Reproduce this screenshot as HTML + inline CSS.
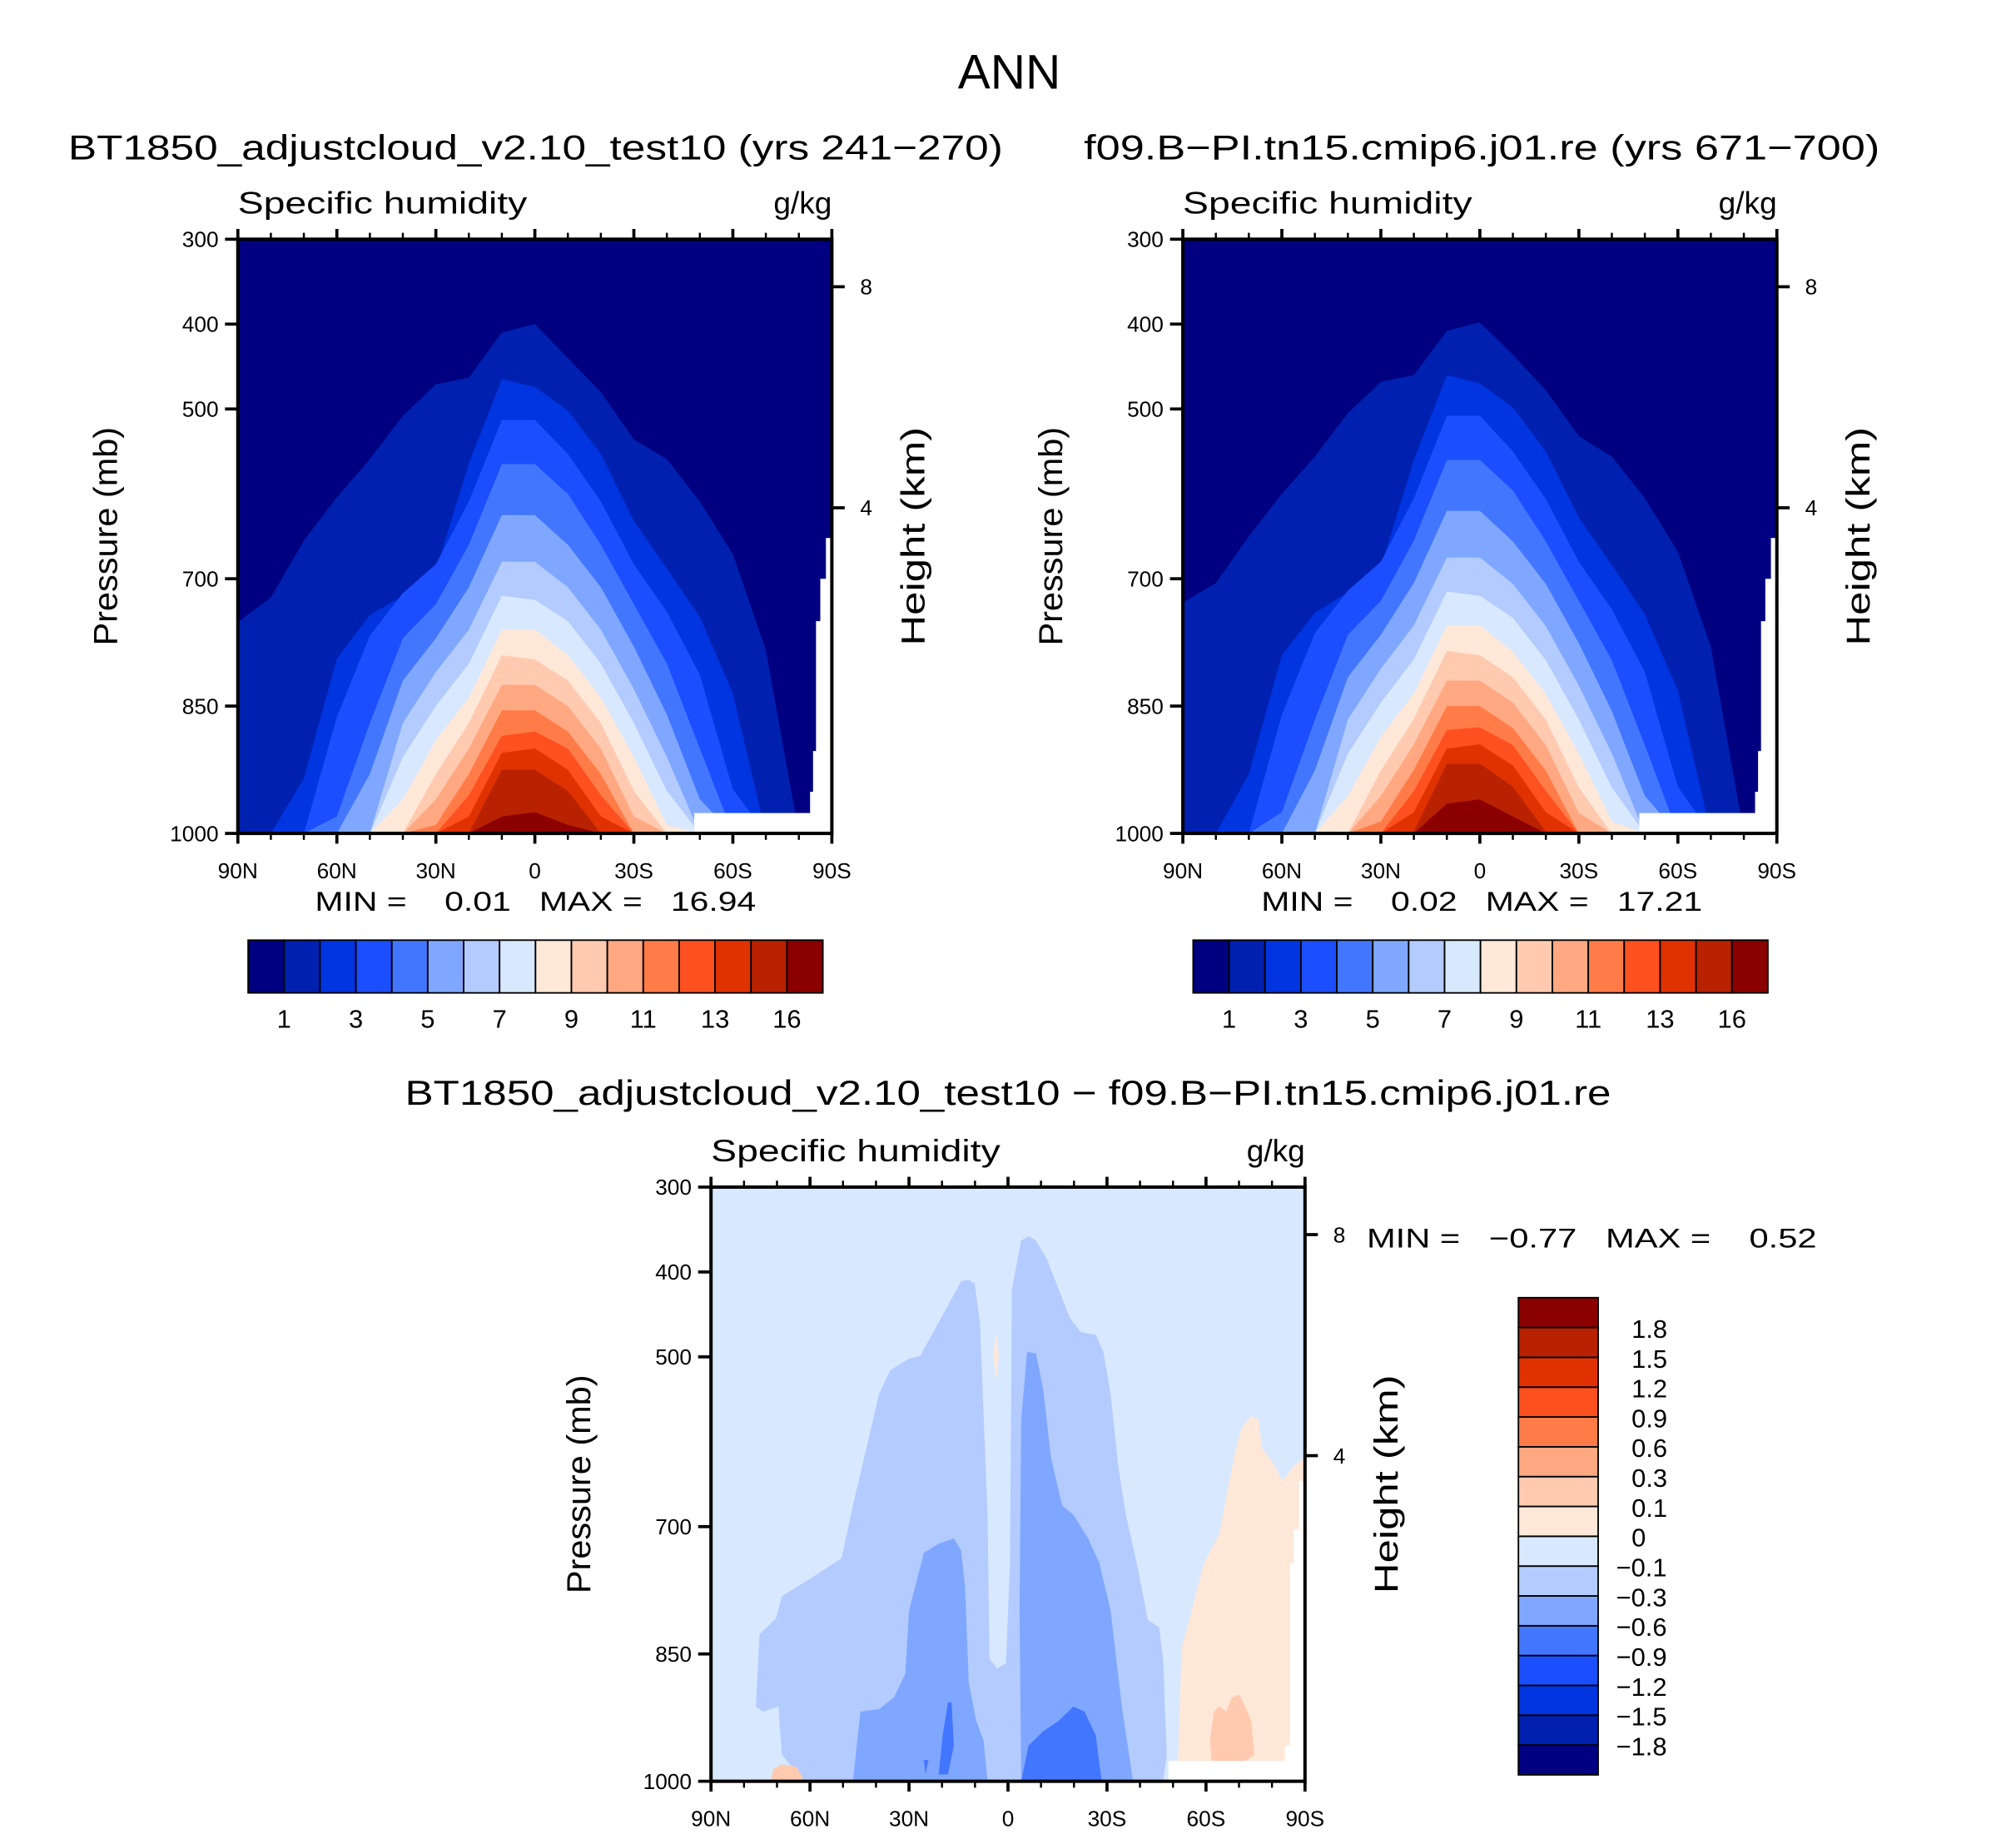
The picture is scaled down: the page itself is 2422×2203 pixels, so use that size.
<!DOCTYPE html>
<html><head><meta charset="utf-8"><style>
html,body{margin:0;padding:0;background:#fff;}
svg{display:block;font-family:"Liberation Sans",sans-serif;}
text{white-space:pre;}
</style></head><body>
<svg id="fig" width="2422" height="2203" viewBox="0 0 1568 1426" preserveAspectRatio="none" xmlns="http://www.w3.org/2000/svg">
<rect width="1568" height="1426" fill="#fff"/>
<text x="785" y="69" font-size="38" text-anchor="middle" textLength="80" lengthAdjust="spacingAndGlyphs">ANN</text>
<text x="53" y="124" font-size="27" textLength="727" lengthAdjust="spacingAndGlyphs">BT1850_adjustcloud_v2.10_test10 (yrs 241−270)</text>
<text x="843" y="124" font-size="27" textLength="619" lengthAdjust="spacingAndGlyphs">f09.B−PI.tn15.cmip6.j01.re (yrs 671−700)</text>
<text x="315" y="859" font-size="27" textLength="938" lengthAdjust="spacingAndGlyphs">BT1850_adjustcloud_v2.10_test10 − f09.B−PI.tn15.cmip6.j01.re</text>
<g id="layer"></g>
</svg>
<script>
// ---- data ----
const lats = [90,80,70,60,50,40,30,20,10,0,-10,-20,-30,-40,-50,-60,-70,-80,-90];
const levelLabelsTop = ['1','3','5','7','9','11','13','16'];
const levelLabelIdx = [1,3,5,7,9,11,13,15];
const diffLevelLabels = ['1.8','1.5','1.2','0.9','0.6','0.3','0.1','0','−0.1','−0.3','−0.6','−0.9','−1.2','−1.5','−1.8'];
const pressureTicks = [300,400,500,700,850,1000];
const heightTicks = [8,4];
const latTicks = [90,60,30,0,-30,-60,-90];
const latTickLabels = ['90N','60N','30N','0','30S','60S','90S'];
const colors = ['#000080','#0020b0','#0035e0','#1a4eff','#4276ff','#80a7ff','#b3cbff','#d8e8ff','#ffe8d8','#ffcab0','#ffa882','#ff7c48','#ff5020','#e03200','#b82200','#8b0000'];

// top of region above each contour level (mb), per latitude
const L_left = [
 [751,722,655,604,559,508,471,463,410,400,440,480,536,559,609,671,784,1000,1000],
 [1000,1000,935,794,743,720,690,564,465,474,502,553,632,688,745,835,1000,1000,1000],
 [1000,1000,1000,863,767,717,683,609,513,513,553,609,683,739,813,948,1000,1000,1000],
 [1000,1000,1000,980,870,770,730,660,565,565,600,660,730,800,900,1000,1000,1000,1000],
 [1000,1000,1000,1000,930,820,770,710,625,625,660,710,780,860,960,1000,1000,1000,1000],
 [1000,1000,1000,1000,1000,870,810,760,680,680,710,760,830,910,1000,1000,1000,1000,1000],
 [1000,1000,1000,1000,1000,910,850,800,720,725,750,800,870,950,1000,1000,1000,1000,1000],
 [1000,1000,1000,1000,1000,960,890,840,760,760,790,840,910,990,1000,1000,1000,1000,1000],
 [1000,1000,1000,1000,1000,1000,930,870,790,795,820,870,950,1000,1000,1000,1000,1000,1000],
 [1000,1000,1000,1000,1000,1000,960,900,825,825,850,900,980,1000,1000,1000,1000,1000,1000],
 [1000,1000,1000,1000,1000,1000,990,930,855,855,880,930,1000,1000,1000,1000,1000,1000,1000],
 [1000,1000,1000,1000,1000,1000,1000,955,885,880,900,955,1000,1000,1000,1000,1000,1000,1000],
 [1000,1000,1000,1000,1000,1000,1000,980,905,900,925,980,1000,1000,1000,1000,1000,1000,1000],
 [1000,1000,1000,1000,1000,1000,1000,1000,925,925,950,1000,1000,1000,1000,1000,1000,1000,1000],
 [1000,1000,1000,1000,1000,1000,1000,1000,980,975,990,1000,1000,1000,1000,1000,1000,1000,1000]
];
const L_right = [
 [728,705,650,600,556,505,468,460,408,398,436,478,532,556,605,668,780,1000,1000],
 [1000,1000,930,790,740,716,686,560,460,470,498,550,628,684,742,832,1000,1000,1000],
 [1000,1000,1000,860,764,714,680,605,508,508,550,606,680,736,810,945,1000,1000,1000],
 [1000,1000,1000,975,866,766,726,655,560,560,596,656,726,796,896,1000,1000,1000,1000],
 [1000,1000,1000,1000,926,816,766,705,620,620,656,706,776,856,956,1000,1000,1000,1000],
 [1000,1000,1000,1000,1000,866,806,755,675,675,706,756,826,906,1000,1000,1000,1000,1000],
 [1000,1000,1000,1000,1000,906,846,795,715,720,746,796,866,946,1000,1000,1000,1000,1000],
 [1000,1000,1000,1000,1000,956,886,835,755,755,786,836,906,986,1000,1000,1000,1000,1000],
 [1000,1000,1000,1000,1000,1000,926,865,785,790,816,866,946,1000,1000,1000,1000,1000,1000],
 [1000,1000,1000,1000,1000,1000,956,895,820,820,846,896,976,1000,1000,1000,1000,1000,1000],
 [1000,1000,1000,1000,1000,1000,986,925,850,850,876,926,1000,1000,1000,1000,1000,1000,1000],
 [1000,1000,1000,1000,1000,1000,1000,950,878,875,896,950,1000,1000,1000,1000,1000,1000,1000],
 [1000,1000,1000,1000,1000,1000,1000,975,900,895,920,975,1000,1000,1000,1000,1000,1000,1000],
 [1000,1000,1000,1000,1000,1000,1000,998,918,918,945,998,1000,1000,1000,1000,1000,1000,1000],
 [1000,1000,1000,1000,1000,1000,1000,1000,965,960,980,1000,1000,1000,1000,1000,1000,1000,1000]
];
// below-ground mask (lat, p)
const maskTop = [[-48.3,1000],[-48.3,976],[-83.4,976],[-83.4,951],[-84.3,951],[-84.3,903],[-85.2,903],[-85.2,750],[-86.5,750],[-86.5,700],[-88.2,700],[-88.2,652],[-90,652],[-90,1000]];
// difference panel regions (lat, p)
const diffA = [[76.4,912],[75.3,827],[70.3,808],[68.5,782],[59.4,760],[50.4,737],[47.0,675],[42.5,601],[39.1,544],[35.7,516],[30.0,502],[26.6,499],[18.7,443],[14.2,411],[11.9,409],[10.1,414],[8.5,460],[6.2,686],[5.6,856],[3.3,867],[0.6,861],[-0.6,743],[-1.2,420],[-4.0,363],[-6.2,358],[-8.5,363],[-11.9,386],[-15.3,420],[-18.7,454],[-22.1,471],[-26.6,474],[-28.9,494],[-31.1,544],[-33.4,629],[-35.7,686],[-39.0,743],[-42.4,810],[-45.8,819],[-47.0,856],[-48.1,969],[-47.0,1000],[61.7,1000],[68.5,969],[69.6,912],[74.2,918]];
const diffB1 = [[47.0,1000],[44.7,918],[39.1,915],[34.5,901],[31.1,873],[30.0,799],[25.5,731],[21.0,720],[16.4,714],[14.2,728],[13.0,771],[11.9,884],[9.6,929],[7.4,952],[6.2,1000]];
const diffB2 = [[-4.0,1000],[-3.5,799],[-4.0,573],[-5.8,494],[-8.5,496],[-10.7,539],[-13.0,618],[-16.4,675],[-19.8,686],[-24.3,714],[-27.7,743],[-31.1,799],[-34.5,912],[-37.9,1000]];
const diffC1 = [[-4.0,1000],[-6.2,958],[-10.7,941],[-15.3,929],[-19.8,912],[-23.2,918],[-26.6,946],[-28.4,1000]];
const diffC2 = [[21.0,992],[19.8,946],[18.2,907],[17.1,907],[16.4,958],[18.2,992]];
const diffC3 = [[25.5,975],[25.0,992],[24.1,975]];
const diffD = [[-51.5,976],[-52.6,844],[-56.0,793],[-59.4,743],[-64.0,709],[-68.5,618],[-70.7,584],[-73.7,570],[-75.9,573],[-76.9,607],[-80.9,629],[-83.2,646],[-86.6,629],[-90,618],[-90,1000],[-51.5,1000]];
const diffE1 = [[-61.2,952],[-62.4,918],[-64.0,912],[-66.2,918],[-67.8,901],[-70.1,898],[-71.9,912],[-73.7,929],[-74.6,969],[-71.9,976],[-61.7,976]];
const diffE2 = [[71.9,1000],[71.2,986],[68.5,980],[64.0,983],[61.7,1000]];
const diffE3 = [[4.4,499],[3.7,471],[2.8,499],[3.5,527]];
const maskDiff = [[-48.6,1000],[-48.6,976],[-83.9,976],[-83.9,958],[-85.5,958],[-85.5,743],[-86.6,743],[-86.6,703],[-88.2,703],[-88.2,646],[-90,646],[-90,1000]];

const NS='http://www.w3.org/2000/svg';
const layer=document.getElementById('layer');
function mk(tag,attrs,parent){const e=document.createElementNS(NS,tag);for(const k in attrs)e.setAttribute(k,attrs[k]);(parent||layer).appendChild(e);return e;}
function txt(s,attrs,parent){const e=mk('text',attrs,parent);e.textContent=s;return e;}
function hToP(km){return 1013.25*Math.pow(1-2.2558e-5*km*1000,5.2559);}

function makePanel(P){
  const xs=lat=>P.x0+(90-lat)/180*P.w;
  const ys=p=>P.y0+(p-300)/700*P.h;
  const g=mk('g',{});
  
  
  const clip=mk('clipPath',{id:P.name+'-clip'},g);
  mk('rect',{x:P.x0,y:P.y0,width:P.w,height:P.h},clip);
  const plot=mk('g',{'clip-path':'url(#'+P.name+'-clip)'},g);
  const bg=mk('rect',{x:P.x0,y:P.y0,width:P.w,height:P.h,fill:P.bg},plot);
  
  
  const poly=(pts,fill,name)=>{const e=mk('polygon',{points:pts.map(q=>xs(q[0]).toFixed(2)+','+ys(q[1]).toFixed(2)).join(' '),fill:fill},plot);
    
    return e;};
  if(P.levels){
    P.levels.forEach((arr,k)=>{
      const pts=lats.map((la,i)=>[la,arr[i]]);
      pts.push([-90,1000]);pts.push([90,1000]);
      poly(pts,colors[k+1],'contour-level-'+(k+1));
    });
  }
  if(P.regions){P.regions.forEach(r=>poly(r[1],colors[r[0]],r[2]));}
  if(P.mask)poly(P.mask,'#fff','missing-data-mask');
  const fr=mk('rect',{x:P.x0,y:P.y0,width:P.w,height:P.h,fill:'none',stroke:'#000','stroke-width':2.6},g);
  
  
  for(let la=90;la>=-90;la-=10){
    const major=la%30===0, L=major?8:5, x=xs(la);
    mk('line',{x1:x,x2:x,y1:P.y0+P.h,y2:P.y0+P.h+L,stroke:'#000','stroke-width':major?2.4:1.6},g);
    mk('line',{x1:x,x2:x,y1:P.y0,y2:P.y0-L,stroke:'#000','stroke-width':major?2.4:1.6},g);
  }
  latTicks.forEach((la,i)=>{const t=txt(latTickLabels[i],{x:xs(la),y:P.y0+P.h+35,'font-size':17,'text-anchor':'middle'},g);
    
    });
  pressureTicks.forEach(p=>{const y=ys(p);
    mk('line',{x1:P.x0-10,x2:P.x0,y1:y,y2:y,stroke:'#000','stroke-width':2.4},g);
    const t=txt(String(p),{x:P.x0-15,y:y+6,'font-size':17,'text-anchor':'end'},g);
    
    });
  heightTicks.forEach(h=>{const y=ys(hToP(h));
    mk('line',{x1:P.x0+P.w,x2:P.x0+P.w+10,y1:y,y2:y,stroke:'#000','stroke-width':2.4},g);
    const t=txt(String(h),{x:P.x0+P.w+22,y:y+6,'font-size':17},g);
    
    });
  const a=txt('Specific humidity',{x:P.x0,y:P.y0-20,'font-size':24,textLength:225,lengthAdjust:'spacingAndGlyphs'},g);
  
  
  const u=txt('g/kg',{x:P.x0+P.w,y:P.y0-20,'font-size':24,'text-anchor':'end'},g);
  
  
  const cy=P.y0+P.h/2;
  const yl=txt('Pressure (mb)',{x:0,y:0,'font-size':26,'text-anchor':'middle',transform:'translate('+(P.x0-94)+','+cy+') rotate(-90)',textLength:170,lengthAdjust:'spacingAndGlyphs'},g);
  
  
  const hl=txt('Height (km)',{x:0,y:0,'font-size':26,'text-anchor':'middle',transform:'translate('+(P.x0+P.w+72)+','+cy+') rotate(-90)',textLength:170,lengthAdjust:'spacingAndGlyphs'},g);
  
  
  const mm=txt(P.minmax,{x:P.mmx,y:P.mmy,'font-size':21,textLength:P.mmw,lengthAdjust:'spacingAndGlyphs'},g);
  
  
}

function hColorbar(x0,y0,w,h,name){
  const g=mk('g',{});
  
  
  const bw=w/16;
  colors.forEach((c,i)=>{const r=mk('rect',{x:x0+i*bw,y:y0,width:bw,height:h,fill:c,stroke:'#000','stroke-width':1.2},g);
    
    });
  levelLabelsTop.forEach((s,i)=>{const t=txt(s,{x:x0+levelLabelIdx[i]*bw,y:y0+h+27,'font-size':20,'text-anchor':'middle'},g);
    
    });
}
function vColorbar(x0,y0,w,h,name){
  const g=mk('g',{});
  
  
  const bh=h/16;
  colors.forEach((c,i)=>{const r=mk('rect',{x:x0,y:y0+(15-i)*bh,width:w,height:bh,fill:c,stroke:'#000','stroke-width':1.2},g);
    
    });
  diffLevelLabels.forEach((s,i)=>{const t=txt(s,{x:x0+w+(s.startsWith('−')?14:26),y:y0+(i+1)*bh+8,'font-size':20},g);
    
    });
}

makePanel({name:'left-panel',x0:185,y0:186,w:462,h:462,bg:colors[0],levels:L_left,mask:maskTop,
  minmax:'MIN =    0.01   MAX =   16.94',mmx:245,mmy:708,mmw:343});
makePanel({name:'right-panel',x0:920,y0:186,w:462,h:462,bg:colors[0],levels:L_right,mask:maskTop,
  minmax:'MIN =    0.02   MAX =   17.21',mmx:981,mmy:708,mmw:343});
makePanel({name:'diff-panel',x0:553,y0:923,w:462,h:462,bg:colors[7],
  regions:[[6,diffA,'region-minus-0.1'],[5,diffB1,'region-minus-0.3-north'],[5,diffB2,'region-minus-0.3-south'],[4,diffC1,'region-minus-0.6-south'],[4,diffC2,'region-minus-0.6-north'],[4,diffC3,'region-minus-0.6-sliver'],[8,diffD,'region-plus-0-south'],[9,diffE1,'region-plus-0.1-south'],[9,diffE2,'region-plus-0.1-north'],[8,diffE3,'region-plus-0-equator']],
  mask:maskDiff,minmax:'MIN =   −0.77   MAX =    0.52',mmx:1063,mmy:970,mmw:350});
hColorbar(193,731,447,41,'left-colorbar');
hColorbar(928,731,447,41,'right-colorbar');
vColorbar(1181,1009,62,371,'diff-colorbar');
</script>
</body></html>
